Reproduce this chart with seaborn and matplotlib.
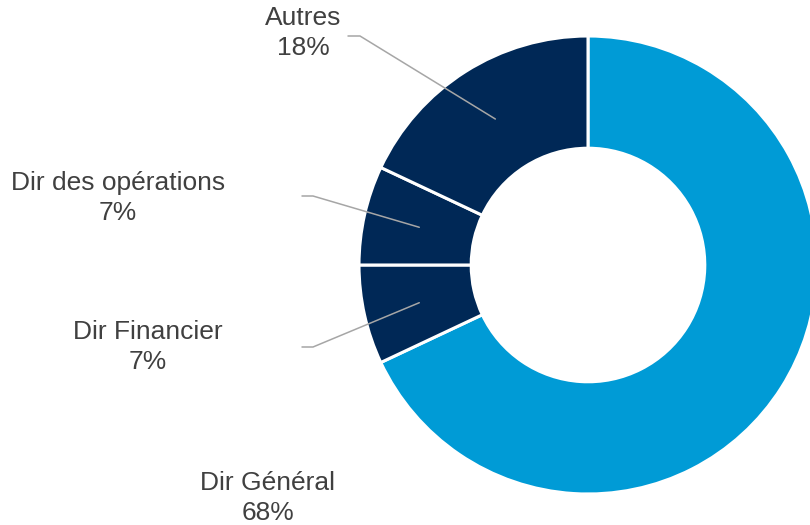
import numpy as np
import matplotlib
matplotlib.use("Agg")
import matplotlib.pyplot as plt
import seaborn as sns

sns.set_theme(style="white")
plt.rcParams['font.family'] = ['Liberation Sans', 'DejaVu Sans']

# data (clockwise from 12 o'clock)
categories = ['Dir Général', 'Dir Financier', 'Dir des opérations', 'Autres']
shares = [68, 7, 7, 18]
pct_labels = ['68%', '7%', '7%', '18%']

light_blue = '#009bd6'
navy = '#002856'
colors = [light_blue, navy, navy, navy]
text_color = '#404040'
line_color = '#a6a6a6'

# pixel geometry of the reference
W, H = 810, 525
cx, cy, R = 588, 265, 229


def px(x, y):
    # pixel position -> data coords (radius 1 = R px)
    return (x - cx) / R, (cy - y) / R


fig = plt.figure(figsize=(W / 100, H / 100), dpi=100)
ax = fig.add_axes([0, 0, 1, 1])

wedges, _ = ax.pie(shares, colors=colors, startangle=90, counterclock=False,
                   radius=1, wedgeprops=dict(width=0.49, edgecolor='white', linewidth=2.2))

x0, y0 = px(0, H)
x1, y1 = px(W, 0)
ax.set_xlim(x0, x1)
ax.set_ylim(y0, y1)
ax.set_aspect('auto')
ax.axis('off')

# label text positions (pixels) and leader elbow start (pixels), None = no leader
label_pos = [(268, 498), (148, 347), (118, 198), (303, 33)]
elbows = [None, ((302, 347), (313, 347)), ((302, 196), (313, 196)), ((348, 36), (360, 36))]

for w, cat, pct, pos, elb in zip(wedges, categories, pct_labels, label_pos, elbows):
    tx, ty = px(*pos)
    ax.text(tx, ty, f"{cat}\n{pct}", ha='center', va='center', fontsize=19,
            color=text_color, linespacing=1.32)
    if elb is not None:
        mid = np.deg2rad((w.theta1 + w.theta2) / 2)
        ex, ey = 0.755 * np.cos(mid), 0.755 * np.sin(mid)
        (ax0, ay0), (ax1, ay1) = px(*elb[0]), px(*elb[1])
        ax.plot([ax0, ax1, ex], [ay0, ay1, ey], color=line_color, lw=1.1,
                solid_joinstyle='miter')

fig.savefig('out.png', dpi=100)
